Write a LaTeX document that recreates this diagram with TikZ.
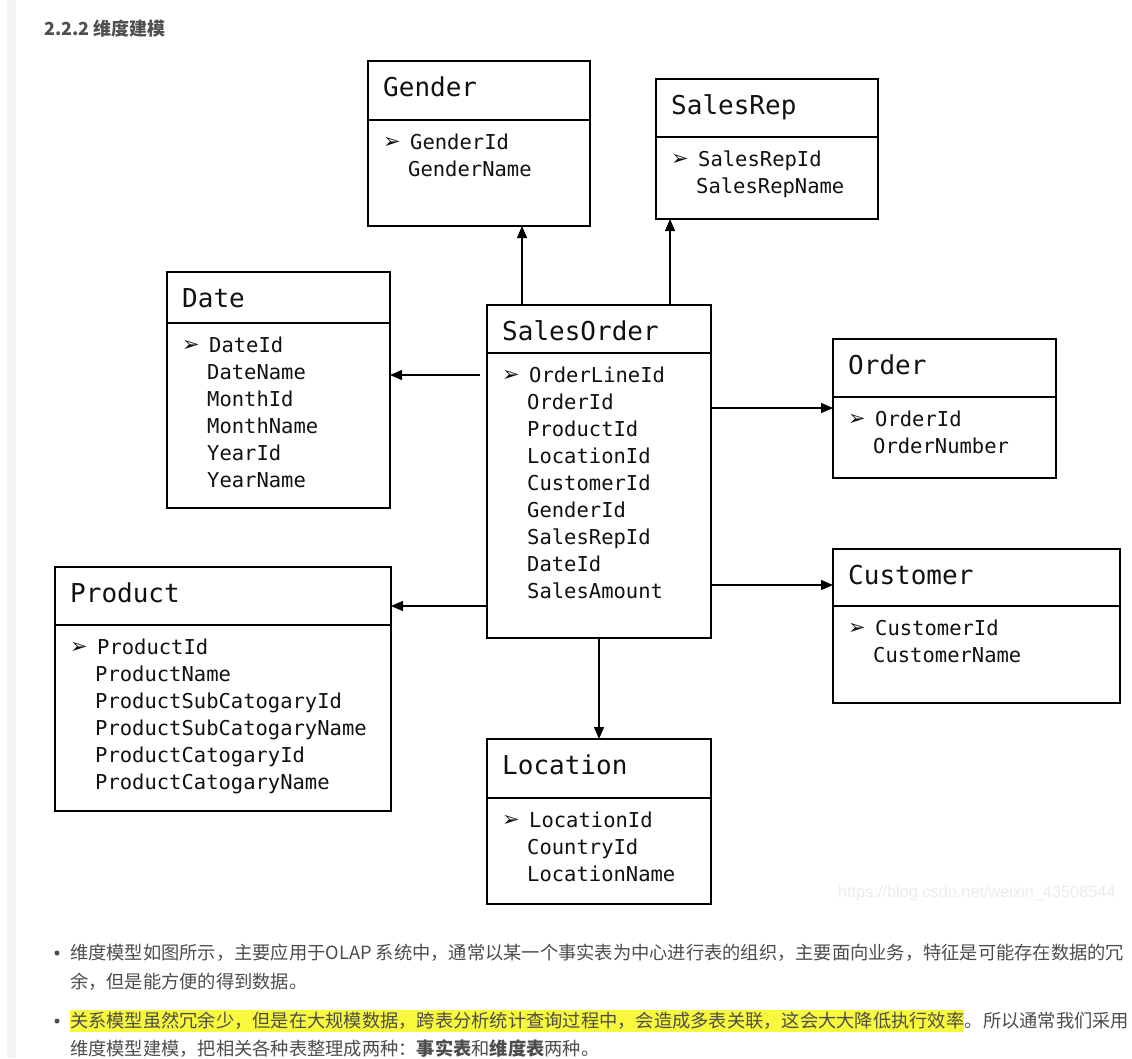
\documentclass[tikz,border=0pt]{standalone}
\usepackage{fontspec}
\usetikzlibrary{arrows.meta,calc}
\newfontfamily\monof{DejaVu Sans Mono}
\newfontfamily\symf{DejaVu Sans}
\newfontfamily\cjk{Noto Sans CJK SC}
\newfontfamily\wmf{Liberation Sans}
\definecolor{txt}{HTML}{4D4D4D}
\definecolor{headc}{HTML}{4F4F4F}
\definecolor{hl}{RGB}{248,248,60}
\definecolor{strip}{RGB}{243,244,246}
\definecolor{wm}{RGB}{236,236,236}
\definecolor{ink}{HTML}{111111}
\tikzset{
  tblbox/.style={draw=black, line width=2pt, inner sep=0pt, outer sep=0pt, fill=white},
  tblline/.style={line width=2pt},
  tbltitle/.style={inner sep=0pt, text=ink, font=\monof\fontsize{26pt}{30pt}\selectfont},
  tblfield/.style={inner sep=0pt, text=ink, font=\monof\fontsize{20.5pt}{27pt}\selectfont},
  tblbullet/.style={inner sep=0pt, text=ink, font=\symf\fontsize{21pt}{24pt}\selectfont},
  conn/.style={line width=1.4pt, -{Triangle[length=12pt,width=10pt]}},
  para/.style={inner sep=0pt, text=txt, font=\cjk\fontsize{18.25pt}{27pt}\selectfont},
  hlpara/.style={para, fill=hl, inner xsep=0pt, inner ysep=0pt, text height=18pt, text depth=4pt},
  dot/.style={circle, fill=txt, inner sep=0pt, minimum size=5pt},
}
\newcommand\dimtable[8]{%
  \node[tblbox, minimum width=#4pt, minimum height=#5pt, anchor=north west] (#1) at (#2,#3) {};
  \draw[tblline] ([yshift=-#6pt]#1.north west) -- ([yshift=-#6pt]#1.north east);
  \node[tbltitle, anchor=base west] (#1-title) at ([xshift=15pt, yshift=-35.5pt]#1.north west) {#7};
  \node[tblbullet, anchor=base west] (#1-bullet) at ([xshift=15pt, yshift={-#6pt-28.5pt}]#1.north west) {➢};
  \foreach \f [count=\i] in {#8} {
    \node[tblfield, anchor=base west] (#1-f\i) at ([xshift={40pt+(\i==1)*2pt}, yshift={-#6pt-29.5pt-27pt*(\i-1)}]#1.north west) {\f};
  }
}
\begin{document}
\begin{tikzpicture}[x=1pt, y=-1pt]
\useasboundingbox (0,0) rectangle (1132,1058);
\fill[white] (0,0) rectangle (1132,1058);
\fill[strip] (7,0) rectangle (16,1058);

\node[anchor=base west, inner sep=0pt, text=headc, font=\cjk\bfseries\fontsize{18pt}{20pt}\selectfont] (heading) at (44,35) {2.2.2 维度建模};

\dimtable{gender}{368}{61}{222}{165}{59}{Gender}{GenderId,GenderName}
\dimtable{salesrep}{656}{79}{222}{140}{58}{SalesRep}{SalesRepId,SalesRepName}
\dimtable{date}{167}{272}{223}{236}{51}{Date}{DateId,DateName,MonthId,MonthName,YearId,YearName}
\dimtable{salesorder}{487}{305}{224}{333}{48}{SalesOrder}{OrderLineId,OrderId,ProductId,LocationId,CustomerId,GenderId,SalesRepId,DateId,SalesAmount}
\dimtable{order}{833}{339}{223}{139}{58}{Order}{OrderId,OrderNumber}
\dimtable{product}{55}{567}{336}{244}{58}{Product}{ProductId,ProductName,ProductSubCatogaryId,ProductSubCatogaryName,ProductCatogaryId,ProductCatogaryName}
\dimtable{customer}{833}{549}{287}{154}{57}{Customer}{CustomerId,CustomerName}
\dimtable{location}{487}{739}{224}{165}{59}{Location}{LocationId,CountryId,LocationName}

\coordinate (c-gender) at ([xshift=35pt]salesorder.north west);
\draw[conn] (c-gender) -- (c-gender |- gender.south);
\coordinate (c-salesrep) at ([xshift=183pt]salesorder.north west);
\draw[conn] (c-salesrep) -- (c-salesrep |- salesrep.south);
\coordinate (c-date) at ([xshift=-7pt,yshift=-70pt]salesorder.north west);
\draw[conn] (c-date) -- (c-date -| date.east);
\coordinate (c-order) at ([yshift=-103pt]salesorder.north east);
\draw[conn] (c-order) -- (c-order -| order.west);
\coordinate (c-customer) at ([yshift=-280pt]salesorder.north east);
\draw[conn] (c-customer) -- (c-customer -| customer.west);
\coordinate (c-product) at ([yshift=-301pt]salesorder.north west);
\draw[conn] (c-product) -- (c-product -| product.east);
\coordinate (c-location) at ([xshift=112pt]salesorder.south west);
\draw[conn] (c-location) -- (c-location |- location.north);

\node[anchor=base west, inner sep=0pt, text=wm, font=\wmf\fontsize{16.3pt}{19pt}\selectfont] (wmark) at (838,897) {https://blog.csdn.net/weixin\_43508544};

\node[dot] (dot1) at (57,953) {};
\node[para, anchor=base west] (p1a) at (70,959.5) {维度模型如图所示，主要应用于OLAP 系统中，通常以某一个事实表为中心进行表的组织，主要面向业务，特征是可能存在数据的冗};
\node[para, anchor=base west] (p1b) at (70,988) {余，但是能方便的得到数据。};
\node[dot] (dot2) at (57,1021) {};
\node[hlpara, anchor=base west] (p2a) at (70,1027.5) {关系模型虽然冗余少，但是在大规模数据，跨表分析统计查询过程中，会造成多表关联，这会大大降低执行效率};
\node[para, anchor=base west] (p2b) at (p2a.base east) {。所以通常我们采用};
\node[para, anchor=base west] (p2c) at (70,1055) {维度模型建模，把相关各种表整理成两种：{\bfseries 事实表}和{\bfseries 维度表}两种。};
\end{tikzpicture}
\end{document}
